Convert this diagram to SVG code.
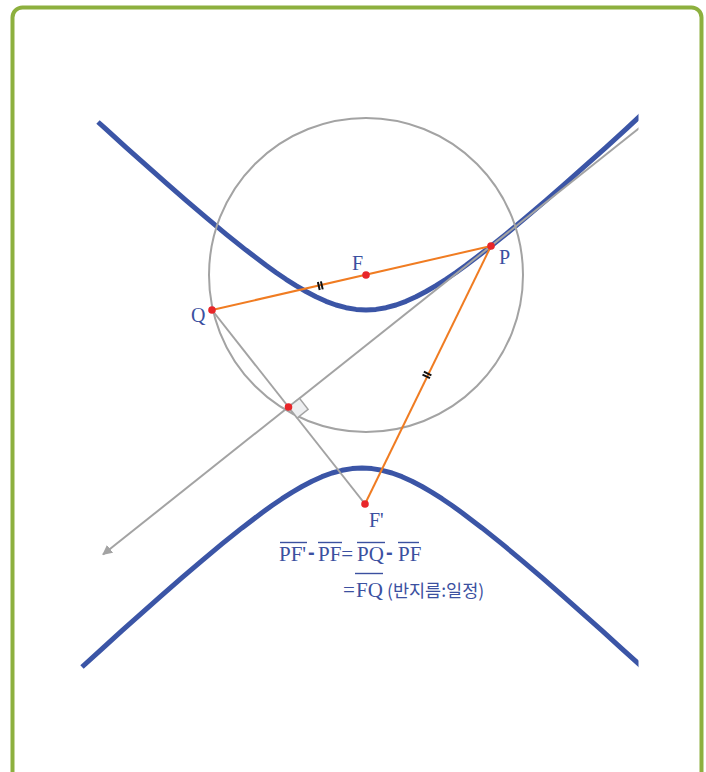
<svg xmlns="http://www.w3.org/2000/svg" width="706" height="772" viewBox="0 0 706 772">
<style>
.curve{fill:none;stroke:#3b55a6;stroke-width:5;stroke-linejoin:round}
.gray{fill:none;stroke:#a3a3a3;stroke-width:2}
.orange{fill:none;stroke:#f07c22;stroke-width:2}
.tick{stroke:#111;stroke-width:2}
.dot{fill:#e8262a}
.lbl{font-family:"Liberation Serif","Times New Roman",serif;font-size:20px;fill:#3b50a0}
.big{font-size:21px}
.minus{font-family:"Liberation Sans",Arial,sans-serif;font-weight:bold;font-size:20px;fill:#3b50a0}
.kr{font-family:"Noto Sans CJK KR","Noto Sans",sans-serif;font-size:17.5px;fill:#3b50a0}
.ov{stroke:#3b50a0;stroke-width:1.4}
</style>
<defs>
<clipPath id="area"><rect x="0" y="0" width="638.5" height="772"/></clipPath>
<marker id="arr" viewBox="0 0 10 10" refX="9" refY="5" markerWidth="5" markerHeight="5" orient="auto" markerUnits="strokeWidth">
<path d="M0,0 L10,5 L0,10 z" fill="#a3a3a3"/>
</marker>
</defs>
<rect x="12.5" y="7.5" width="689" height="800" rx="10" fill="#fff" stroke="#8db03e" stroke-width="4"/>
<g id="hyperbola" clip-path="url(#area)">
<path class="curve" d="M98,122 L106,129.2 L126,147.3 L146,165.2 L166,182.9 L186,200.3 L206,217.4 L226,234.1 L246,250.1 L266,265.3 L276,272.5 L286,279.3 L296,285.7 L306,291.5 L316,296.8 L326,301.3 L336,305 L346,307.7 L356,309.4 L366,310 L376,309.4 L386,307.7 L396,305 L406,301.3 L416,296.8 L426,291.5 L436,285.7 L446,279.3 L456,272.5 L466,265.3 L486,250.1 L506,234.1 L526,217.4 L546,200.3 L566,182.9 L586,165.2 L606,147.3 L626,129.2 L646,110.5"/>
<path class="curve" d="M82,667 L102,648.8 L122,630.7 L142,612.8 L162,595.1 L182,577.7 L202,560.6 L222,543.9 L242,527.9 L262,512.7 L272,505.5 L282,498.7 L292,492.3 L302,486.5 L312,481.2 L322,476.7 L332,473 L342,470.3 L352,468.6 L362,468 L372,468.6 L382,470.3 L392,473 L402,476.7 L412,481.2 L422,486.5 L432,492.3 L442,498.7 L452,505.5 L462,512.7 L482,527.9 L502,543.9 L522,560.6 L542,577.7 L562,595.1 L582,612.8 L602,630.7 L622,648.8 L646,670.5"/>
</g>
<g id="connectors">
<circle class="gray" cx="366" cy="275" r="157"/>
<g clip-path="url(#area)">
<line class="gray" x1="660" y1="111.6" x2="103" y2="554.5" marker-end="url(#arr)"/>
</g>
<line class="gray" x1="212" y1="310" x2="365" y2="504"/>
<path d="M288.5,407 L299.5,398.3 L308.1,409.3 L297.2,418 Z" fill="#eeeff1" stroke="#a3a3a3" stroke-width="1.5"/>
<line class="orange" x1="212" y1="310" x2="491" y2="246"/>
<line class="orange" x1="491" y1="246" x2="365" y2="504"/>
<line class="tick" x1="317.9" y1="282" x2="319.7" y2="290"/>
<line class="tick" x1="320.9" y1="281.4" x2="322.7" y2="289.4"/>
<line class="tick" x1="422.5" y1="374.6" x2="430" y2="378.2"/>
<line class="tick" x1="423.9" y1="371.7" x2="431.4" y2="375.3"/>
</g>
<g id="points">
<circle class="dot" cx="212" cy="310" r="3.8"/>
<circle class="dot" cx="366" cy="275" r="3.8"/>
<circle class="dot" cx="491" cy="246" r="3.8"/>
<circle class="dot" cx="365" cy="504" r="3.8"/>
<circle class="dot" cx="288.5" cy="407" r="3.8"/>
</g>
<g id="labels">
<text class="lbl" x="352" y="270">F</text>
<text class="lbl" x="499" y="264">P</text>
<text class="lbl" x="191" y="322">Q</text>
<text class="lbl" x="369" y="527">F'</text>
</g>
<g id="formula">
<text class="lbl big" y="561"><tspan x="279">PF'</tspan><tspan x="318">PF=</tspan><tspan x="357">PQ</tspan><tspan x="398">PF</tspan></text>
<text class="minus" y="559"><tspan x="308">-</tspan><tspan x="386">-</tspan></text>
<line class="ov" x1="280" y1="542.5" x2="307" y2="542.5"/>
<line class="ov" x1="318" y1="542.5" x2="342" y2="542.5"/>
<line class="ov" x1="357" y1="542.5" x2="385" y2="542.5"/>
<line class="ov" x1="398" y1="542.5" x2="419" y2="542.5"/>
<text class="lbl big" y="597"><tspan x="343">=</tspan><tspan x="356">FQ</tspan></text>
<line class="ov" x1="355" y1="573.5" x2="383" y2="573.5"/>
<text class="kr" x="387" y="597">(반지름:일정)</text>
</g>
</svg>
